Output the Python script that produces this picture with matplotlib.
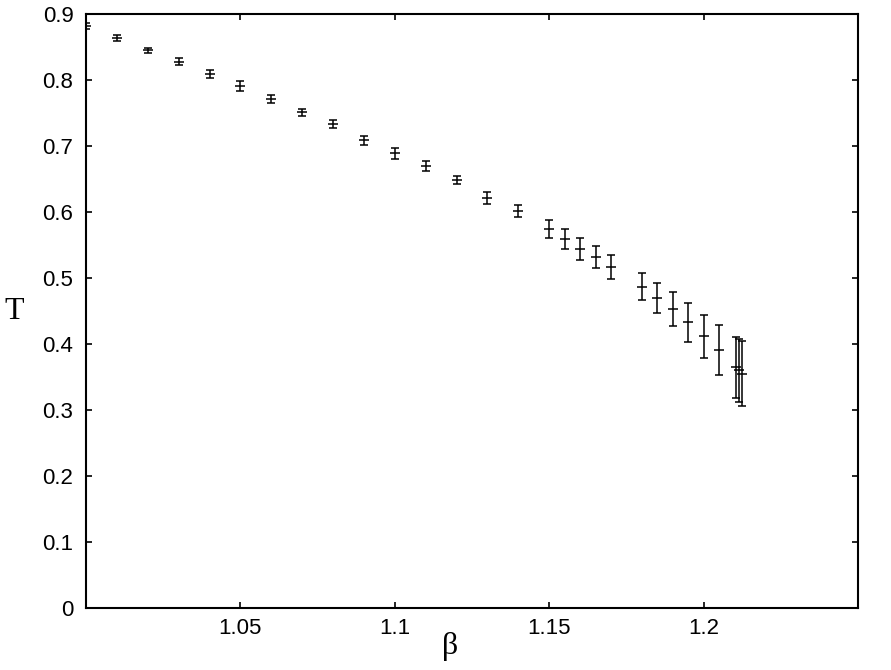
import numpy as np
import matplotlib
matplotlib.use("Agg")
from matplotlib import pyplot as plt

# beta, T and error of T
beta = [1.00, 1.01, 1.02, 1.03, 1.04, 1.05, 1.06, 1.07, 1.08, 1.09,
        1.10, 1.11, 1.12, 1.13, 1.14, 1.15, 1.155, 1.16, 1.165, 1.17,
        1.18, 1.185, 1.19, 1.195, 1.20, 1.205, 1.2105, 1.2113, 1.2123]
temp = [0.882, 0.864, 0.845, 0.828, 0.809, 0.791, 0.771, 0.751, 0.733, 0.709,
        0.689, 0.670, 0.648, 0.621, 0.601, 0.574, 0.559, 0.544, 0.532, 0.517,
        0.487, 0.470, 0.453, 0.433, 0.412, 0.391, 0.365, 0.360, 0.355]
err = [0.004, 0.005, 0.004, 0.005, 0.006, 0.007, 0.006, 0.005, 0.006, 0.007,
       0.008, 0.008, 0.006, 0.009, 0.009, 0.0135, 0.015, 0.016, 0.017, 0.018,
       0.021, 0.023, 0.026, 0.0295, 0.0325, 0.0375, 0.046, 0.048, 0.049]

xticks = [1.05, 1.1, 1.15, 1.2]
xlabels = ["1.05", "1.1", "1.15", "1.2"]
yticks = [0, 0.1, 0.2, 0.3, 0.4, 0.5, 0.6, 0.7, 0.8, 0.9]
ylabels = ["0", "0.1", "0.2", "0.3", "0.4", "0.5", "0.6", "0.7", "0.8", "0.9"]

plt.rcParams['font.family'] = ['Liberation Sans', 'DejaVu Sans']

fig = plt.figure(figsize=(8.91, 6.70), dpi=100)
ax = fig.add_axes([0.0965, 0.0925, 0.8665, 0.8865])

ax.errorbar(beta, temp, yerr=err, fmt='_', color='black', ecolor='black',
            elinewidth=1.1, capsize=3, capthick=1.1, markersize=7,
            markeredgewidth=1.1)

ax.set_xlim(1.0, 1.25)
ax.set_ylim(0, 0.9)
ax.set_xticks(xticks)
ax.set_xticklabels(xlabels)
ax.set_yticks(yticks)
ax.set_yticklabels(ylabels)
ax.tick_params(direction='in', length=4, width=1.2, top=True, right=True,
               labelsize=16)
ax.tick_params(axis='x', pad=7)
ax.tick_params(axis='y', pad=9)
for s in ax.spines.values():
    s.set_linewidth(1.5)

serif = ['Liberation Serif', 'DejaVu Serif']
ax.set_xlabel("β", family=serif, fontsize=23)
ax.set_ylabel("T", family=serif, fontsize=23, rotation=0)
ax.xaxis.label.set_va('center')
ax.yaxis.label.set_va('center')
ax.yaxis.label.set_ha('center')
ax.xaxis.set_label_coords(0.4715, -0.064)
ax.yaxis.set_label_coords(-0.0926, 0.50)

fig.savefig("out.png", dpi=100)
